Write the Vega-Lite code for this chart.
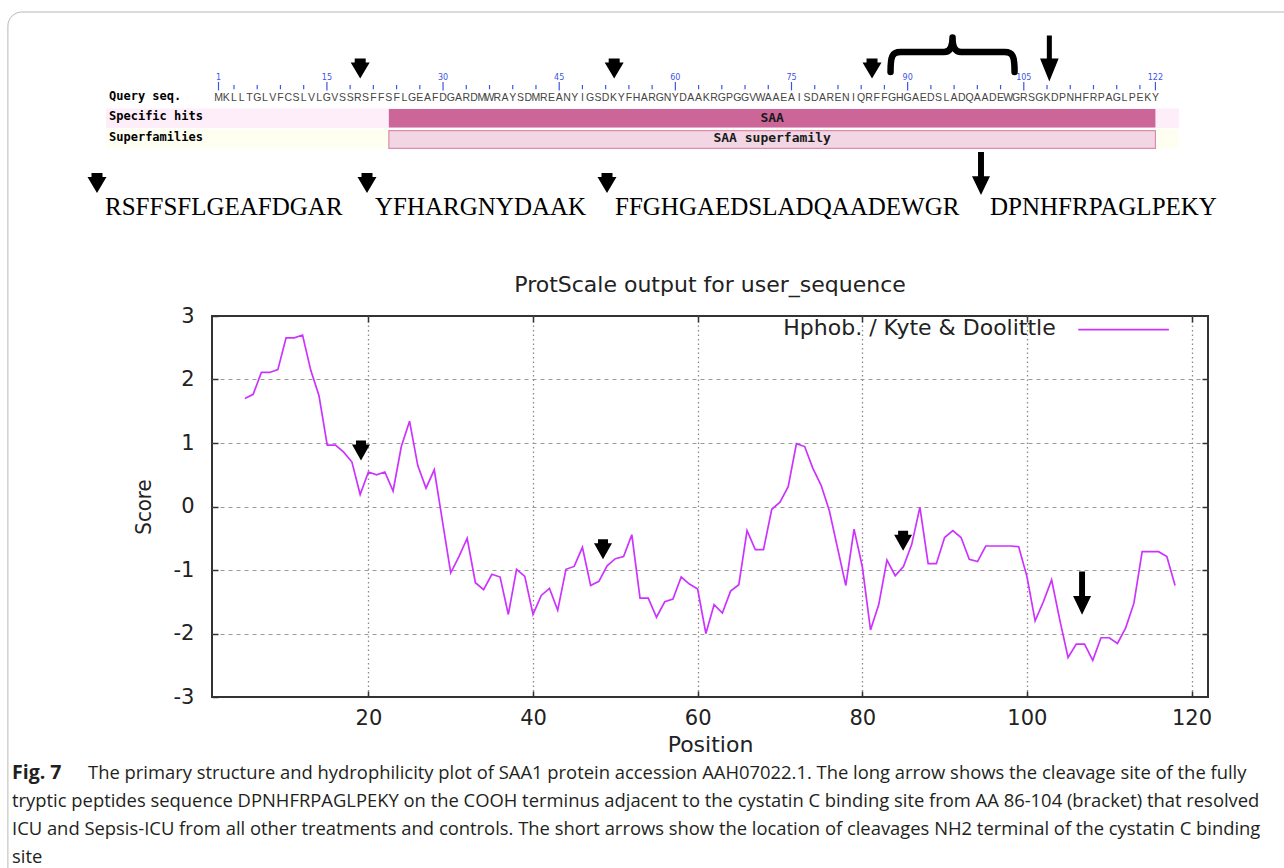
{
  "$schema": "https://vega.github.io/schema/vega-lite/v6.json",
  "autosize": {"type": "none"},
  "padding": {"left": 212, "top": 0, "right": 1072, "bottom": 868},
  "background": "white",
  "config": {"view": {"stroke": null}, "font": "DejaVu Sans"},
  "spacing": 0,
  "bounds": "flush",
  "resolve": {"scale": {"color": "independent"}},
  "vconcat": [
    {
      "width": 996,
      "height": 160,
      "layer": [
        {
          "data": {"values": [{"frame": "figure"}]},
          "mark": {"type": "rect", "fill": "white", "fillOpacity": 0, "stroke": "#b8b8b8", "strokeWidth": 1, "cornerRadius": 14},
          "encoding": {
            "x": {"datum": -26.2, "type": "quantitative", "scale": {"domain": [0.1605, 128.79], "nice": false, "zero": false}, "axis": null},
            "x2": {"datum": 200},
            "y": {"datum": -3.183, "type": "quantitative", "scale": {"domain": [-3.768, 4.037], "nice": false, "zero": false, "reverse": true}, "axis": null},
            "y2": {"datum": 60}
          }
        },
        {
          "data": {"name": "tracks"},
          "transform": [{"filter": "datum.track >= 2"}],
          "mark": {"type": "rule", "strokeWidth": 19.5, "strokeCap": "butt"},
          "encoding": {
            "x": {"datum": -13.53, "type": "quantitative"},
            "x2": {"datum": 125.05},
            "y": {"field": "track", "type": "quantitative"},
            "color": {"field": "label", "type": "nominal", "scale": {"domain": ["Specific hits", "Superfamilies"], "range": ["#fdeefa", "#fefff0"]}, "legend": null}
          }
        },
        {
          "data": {"name": "hits"},
          "transform": [{"filter": "datum.track == 'Specific hits'"}],
          "mark": {"type": "rect", "fill": "#cc6699"},
          "encoding": {
            "x": {"field": "start", "type": "quantitative"},
            "x2": {"field": "end"},
            "y": {"datum": 1.55, "type": "quantitative"},
            "y2": {"datum": 2.45}
          }
        },
        {
          "data": {"name": "hits"},
          "transform": [{"filter": "datum.track == 'Superfamilies'"}],
          "mark": {"type": "rect", "fill": "#f2d6e4", "stroke": "#dc8cb0", "strokeWidth": 1.2},
          "encoding": {
            "x": {"field": "start", "type": "quantitative"},
            "x2": {"field": "end"},
            "y": {"datum": 2.6, "type": "quantitative"},
            "y2": {"datum": 3.47}
          }
        },
        {
          "data": {"name": "hits"},
          "transform": [{"filter": "datum.track == 'Specific hits'"}],
          "mark": {"type": "text", "font": "DejaVu Sans Mono", "fontWeight": "bold", "fontSize": 13, "color": "#1a1a1a", "baseline": "middle"},
          "encoding": {
            "x": {"datum": 72.5, "type": "quantitative"},
            "y": {"datum": 2, "type": "quantitative"},
            "text": {"field": "name"}
          }
        },
        {
          "data": {"name": "hits"},
          "transform": [{"filter": "datum.track == 'Superfamilies'"}],
          "mark": {"type": "text", "font": "DejaVu Sans Mono", "fontWeight": "bold", "fontSize": 13, "color": "#1a1a1a", "baseline": "middle"},
          "encoding": {
            "x": {"datum": 72.5, "type": "quantitative"},
            "y": {"datum": 2.97, "type": "quantitative"},
            "text": {"field": "name"}
          }
        },
        {
          "data": {"name": "tracks"},
          "mark": {"type": "text", "align": "left", "baseline": "middle", "dy": -2, "font": "DejaVu Sans Mono", "fontWeight": "bold", "fontSize": 12, "color": "#000000"},
          "encoding": {
            "x": {"datum": -13.14, "type": "quantitative"},
            "y": {"field": "track", "type": "quantitative"},
            "text": {"field": "label"}
          }
        },
        {
          "data": {"name": "sequence"},
          "mark": {"type": "text", "baseline": "middle", "font": "Liberation Sans", "fontSize": 10.5, "color": "#444444"},
          "encoding": {
            "x": {"field": "position", "type": "quantitative"},
            "y": {"datum": 1, "type": "quantitative"},
            "text": {"field": "residue"}
          }
        },
        {
          "data": {"name": "ruler"},
          "transform": [{"filter": "datum.major"}],
          "mark": {"type": "rule", "color": "#3b55e6", "strokeWidth": 1.2},
          "encoding": {
            "x": {"field": "position", "type": "quantitative"},
            "y": {"datum": 0.232, "type": "quantitative"},
            "y2": {"datum": 0.641}
          }
        },
        {
          "data": {"name": "ruler"},
          "transform": [{"filter": "!datum.major"}],
          "mark": {"type": "rule", "color": "#3b55e6", "strokeWidth": 1.2},
          "encoding": {
            "x": {"field": "position", "type": "quantitative"},
            "y": {"datum": 0.378, "type": "quantitative"},
            "y2": {"datum": 0.588}
          }
        },
        {
          "data": {"name": "ruler"},
          "transform": [{"filter": "datum.major"}],
          "mark": {"type": "text", "baseline": "middle", "font": "DejaVu Sans", "fontSize": 8, "color": "#3b55e6"},
          "encoding": {
            "x": {"field": "position", "type": "quantitative"},
            "y": {"datum": 0.0366, "type": "quantitative"},
            "text": {"field": "position", "type": "quantitative"}
          }
        },
        {
          "data": {"name": "sites"},
          "transform": [{"filter": "datum.arrow == 'short'"}],
          "mark": {"type": "point", "shape": "M-0.55,-1L0.55,-1L0.55,-0.6L0.95,-0.6L0,1L-0.95,-0.6L-0.55,-0.6Z", "size": 400, "filled": true, "opacity": 1, "color": "#000000"},
          "encoding": {
            "x": {"field": "position", "type": "quantitative"},
            "y": {"datum": -0.43, "type": "quantitative"}
          }
        },
        {
          "data": {"name": "sites"},
          "transform": [{"filter": "datum.arrow == 'long'"}],
          "mark": {"type": "point", "shape": "M-0.27,-2.47L0.27,-2.47L0.27,0L1,0L0,2.47L-1,0L-0.27,0Z", "size": 346, "filled": true, "opacity": 1, "color": "#000000"},
          "encoding": {
            "x": {"field": "position", "type": "quantitative"},
            "y": {"datum": -0.91, "type": "quantitative"}
          }
        },
        {
          "data": {"values": [{"region": "cystatin C binding site"}]},
          "mark": {"type": "point", "shape": "M-0.954,0.26C-0.954,0.02 -0.93,-0.046 -0.8,-0.046L-0.13,-0.046C-0.04,-0.046 0,-0.12 0,-0.27C0,-0.12 0.04,-0.046 0.13,-0.046L0.8,-0.046C0.93,-0.046 0.954,0.02 0.954,0.26", "size": 16900, "filled": false, "opacity": 1, "color": "#000000", "strokeWidth": 6.5, "strokeCap": "round", "strokeJoin": "round"},
          "encoding": {
            "x": {"datum": 95.8, "type": "quantitative"},
            "y": {"datum": -1.085, "type": "quantitative"}
          }
        }
      ]
    },
    {
      "width": 996,
      "height": 156,
      "data": {"values": [
        {"peptide": "RSFFSFLGEAFDGAR", "start": 19, "site": "short"},
        {"peptide": "YFHARGNYDAAK", "start": 53, "site": "short"},
        {"peptide": "FFGHGAEDSLADQAADEWGR", "start": 86, "site": "short"},
        {"peptide": "DPNHFRPAGLPEKY", "start": 109, "site": "long"}
      ]},
      "layer": [
        {
          "mark": {"type": "text", "align": "left", "baseline": "alphabetic", "font": "Liberation Serif", "fontSize": 25, "color": "#000000"},
          "encoding": {
            "x": {"field": "start", "type": "quantitative", "scale": {"domain": [19, 53, 86, 109], "range": [-107, 163, 403, 778], "zero": false, "nice": false}, "axis": null},
            "y": {"value": 55},
            "text": {"field": "peptide"}
          }
        },
        {
          "transform": [{"filter": "datum.site == 'short'"}],
          "mark": {"type": "point", "shape": "M-0.55,-1L0.55,-1L0.55,-0.6L0.95,-0.6L0,1L-0.95,-0.6L-0.55,-0.6Z", "size": 400, "filled": true, "opacity": 1, "color": "#000000", "xOffset": -8},
          "encoding": {
            "x": {"field": "start", "type": "quantitative", "axis": null},
            "y": {"value": 23}
          }
        },
        {
          "transform": [{"filter": "datum.site == 'long'"}],
          "mark": {"type": "point", "shape": "M-0.33,-2.4L0.33,-2.4L0.33,0.3L1,0.3L0,2.4L-1,0.3L-0.33,0.3Z", "size": 324, "filled": true, "opacity": 1, "color": "#000000", "xOffset": -9},
          "encoding": {
            "x": {"field": "start", "type": "quantitative", "axis": null},
            "y": {"value": 13.5}
          }
        }
      ]
    },
    {
      "width": 996,
      "height": 381,
      "title": {"text": "ProtScale output for user_sequence", "font": "DejaVu Sans", "fontSize": 22, "fontWeight": "normal", "color": "#222222", "anchor": "middle", "frame": "group", "baseline": "alphabetic", "offset": -9},
      "view": {"stroke": "#333333", "strokeWidth": 2},
      "data": {"values": [
        {"position": 5, "score": 1.700}, {"position": 6, "score": 1.767}, {"position": 7, "score": 2.111}, {"position": 8, "score": 2.111},
        {"position": 9, "score": 2.156}, {"position": 10, "score": 2.656}, {"position": 11, "score": 2.656}, {"position": 12, "score": 2.700},
        {"position": 13, "score": 2.144}, {"position": 14, "score": 1.744}, {"position": 15, "score": 0.967}, {"position": 16, "score": 0.967},
        {"position": 17, "score": 0.856}, {"position": 18, "score": 0.700}, {"position": 19, "score": 0.189}, {"position": 20, "score": 0.544},
        {"position": 21, "score": 0.500}, {"position": 22, "score": 0.544}, {"position": 23, "score": 0.244}, {"position": 24, "score": 0.944},
        {"position": 25, "score": 1.344}, {"position": 26, "score": 0.644}, {"position": 27, "score": 0.289}, {"position": 28, "score": 0.578},
        {"position": 29, "score": -0.233}, {"position": 30, "score": -1.044}, {"position": 31, "score": -0.789}, {"position": 32, "score": -0.500},
        {"position": 33, "score": -1.200}, {"position": 34, "score": -1.311}, {"position": 35, "score": -1.067}, {"position": 36, "score": -1.111},
        {"position": 37, "score": -1.700}, {"position": 38, "score": -0.989}, {"position": 39, "score": -1.100}, {"position": 40, "score": -1.700},
        {"position": 41, "score": -1.400}, {"position": 42, "score": -1.289}, {"position": 43, "score": -1.633}, {"position": 44, "score": -0.989},
        {"position": 45, "score": -0.944}, {"position": 46, "score": -0.644}, {"position": 47, "score": -1.244}, {"position": 48, "score": -1.178},
        {"position": 49, "score": -0.933}, {"position": 50, "score": -0.822}, {"position": 51, "score": -0.789}, {"position": 52, "score": -0.444},
        {"position": 53, "score": -1.444}, {"position": 54, "score": -1.444}, {"position": 55, "score": -1.744}, {"position": 56, "score": -1.500},
        {"position": 57, "score": -1.456}, {"position": 58, "score": -1.111}, {"position": 59, "score": -1.222}, {"position": 60, "score": -1.300},
        {"position": 61, "score": -2.000}, {"position": 62, "score": -1.544}, {"position": 63, "score": -1.678}, {"position": 64, "score": -1.333},
        {"position": 65, "score": -1.233}, {"position": 66, "score": -0.378}, {"position": 67, "score": -0.678}, {"position": 68, "score": -0.678},
        {"position": 69, "score": -0.044}, {"position": 70, "score": 0.067}, {"position": 71, "score": 0.311}, {"position": 72, "score": 0.989},
        {"position": 73, "score": 0.944}, {"position": 74, "score": 0.600}, {"position": 75, "score": 0.333}, {"position": 76, "score": -0.067},
        {"position": 77, "score": -0.656}, {"position": 78, "score": -1.244}, {"position": 79, "score": -0.356}, {"position": 80, "score": -0.944},
        {"position": 81, "score": -1.944}, {"position": 82, "score": -1.544}, {"position": 83, "score": -0.844}, {"position": 84, "score": -1.089},
        {"position": 85, "score": -0.944}, {"position": 86, "score": -0.600}, {"position": 87, "score": -0.011}, {"position": 88, "score": -0.900},
        {"position": 89, "score": -0.900}, {"position": 90, "score": -0.489}, {"position": 91, "score": -0.378}, {"position": 92, "score": -0.489},
        {"position": 93, "score": -0.833}, {"position": 94, "score": -0.867}, {"position": 95, "score": -0.622}, {"position": 96, "score": -0.622},
        {"position": 97, "score": -0.622}, {"position": 98, "score": -0.622}, {"position": 99, "score": -0.633}, {"position": 100, "score": -1.100},
        {"position": 101, "score": -1.800}, {"position": 102, "score": -1.500}, {"position": 103, "score": -1.156}, {"position": 104, "score": -1.789},
        {"position": 105, "score": -2.378}, {"position": 106, "score": -2.167}, {"position": 107, "score": -2.167}, {"position": 108, "score": -2.422},
        {"position": 109, "score": -2.067}, {"position": 110, "score": -2.067}, {"position": 111, "score": -2.156}, {"position": 112, "score": -1.911},
        {"position": 113, "score": -1.522}, {"position": 114, "score": -0.711}, {"position": 115, "score": -0.711}, {"position": 116, "score": -0.711},
        {"position": 117, "score": -0.789}, {"position": 118, "score": -1.244}
      ]},
      "layer": [
        {
          "mark": {"type": "line", "color": "#cc33ff", "strokeWidth": 1.7},
          "encoding": {
            "x": {"field": "position", "type": "quantitative", "scale": {"domain": [1, 122], "nice": false, "zero": false},
              "axis": {"values": [20, 40, 60, 80, 100, 120], "title": "Position", "grid": true, "gridDash": [1.5, 3], "gridColor": "#8a8a8a", "gridWidth": 1.3, "domain": false, "ticks": true, "tickSize": -6, "tickColor": "#333333", "tickWidth": 1.5, "labelPadding": 16, "labelFont": "DejaVu Sans", "labelFontSize": 21, "labelColor": "#222222", "titleFont": "DejaVu Sans", "titleFontSize": 22, "titleFontWeight": "normal", "titleColor": "#222222", "titlePadding": 6}},
            "y": {"field": "score", "type": "quantitative", "scale": {"domain": [-3, 3], "nice": false, "zero": false},
              "axis": {"values": [-3, -2, -1, 0, 1, 2, 3], "labelExpr": "'' + datum.value", "title": "Score", "grid": true, "gridDash": [4, 4], "gridColor": "#9a9a9a", "gridWidth": 1.2, "gridOpacity": {"condition": {"test": "abs(datum.value) == 3", "value": 0}, "value": 1}, "domain": false, "ticks": true, "tickSize": -6, "tickColor": "#333333", "tickWidth": 1.5, "labelPadding": 24, "labelFont": "DejaVu Sans", "labelFontSize": 21, "labelColor": "#222222", "titleFont": "Liberation Sans Narrow, DejaVu Sans Condensed, DejaVu Sans", "titleFontSize": 22, "titleFontWeight": "normal", "titleColor": "#222222", "titlePadding": 18}}
          }
        },
        {
          "mark": {"type": "point", "opacity": 0},
          "encoding": {
            "x": {"field": "position", "type": "quantitative",
              "axis": {"orient": "top", "values": [20, 40, 60, 80, 100, 120], "labels": false, "title": null, "grid": false, "domain": false, "tickSize": -6, "tickColor": "#333333", "tickWidth": 1.5}},
            "y": {"field": "score", "type": "quantitative",
              "axis": {"orient": "right", "values": [-2, -1, 0, 1, 2], "labels": false, "title": null, "grid": false, "domain": false, "tickSize": -6, "tickColor": "#333333", "tickWidth": 1.5}}
          }
        },
        {
          "data": {"values": [{"label": "Hphob. / Kyte & Doolittle"}]},
          "mark": {"type": "text", "align": "right", "baseline": "alphabetic", "font": "DejaVu Sans", "fontSize": 22, "color": "#222222"},
          "encoding": {
            "x": {"datum": 103.5, "type": "quantitative", "axis": null},
            "y": {"datum": 2.693, "type": "quantitative", "axis": null},
            "text": {"field": "label"}
          }
        },
        {
          "data": {"values": [{"label": "Hphob. / Kyte & Doolittle"}]},
          "mark": {"type": "rule", "color": "#cc33ff", "strokeWidth": 1.7},
          "encoding": {
            "x": {"datum": 106.24, "type": "quantitative", "axis": null},
            "x2": {"datum": 117.25},
            "y": {"datum": 2.787, "type": "quantitative", "axis": null}
          }
        },
        {
          "data": {"values": [
            {"position": 19.1, "score": 0.88, "arrow": "short"},
            {"position": 48.5, "score": -0.674, "arrow": "short"},
            {"position": 84.96, "score": -0.54, "arrow": "short"}
          ]},
          "mark": {"type": "point", "shape": "M-0.5,-1L0.5,-1L0.5,-0.6L0.9,-0.6L0,1L-0.9,-0.6L-0.5,-0.6Z", "size": 400, "filled": true, "opacity": 1, "color": "#000000"},
          "encoding": {
            "x": {"field": "position", "type": "quantitative", "axis": null},
            "y": {"field": "score", "type": "quantitative", "axis": null}
          }
        },
        {
          "data": {"values": [
            {"position": 106.7, "score": -1.365, "arrow": "long"}
          ]},
          "mark": {"type": "point", "shape": "M-0.33,-2.4L0.33,-2.4L0.33,0.3L1,0.3L0,2.4L-1,0.3L-0.33,0.3Z", "size": 324, "filled": true, "opacity": 1, "color": "#000000"},
          "encoding": {
            "x": {"field": "position", "type": "quantitative", "axis": null},
            "y": {"field": "score", "type": "quantitative", "axis": null}
          }
        }
      ],
      "resolve": {"axis": {"x": "independent", "y": "independent"}}
    },
    {
      "width": 996,
      "height": 171,
      "data": {"values": [
        {"line": 1, "part": "label", "text": "Fig. 7"},
        {"line": 1, "part": "first", "text": "The primary structure and hydrophilicity plot of SAA1 protein accession AAH07022.1. The long arrow shows the cleavage site of the fully"},
        {"line": 2, "part": "body", "text": "tryptic peptides sequence DPNHFRPAGLPEKY on the COOH terminus adjacent to the cystatin C binding site from AA 86-104 (bracket) that resolved"},
        {"line": 3, "part": "body", "text": "ICU and Sepsis-ICU from all other treatments and controls. The short arrows show the location of cleavages NH2 terminal of the cystatin C binding"},
        {"line": 4, "part": "body", "text": "site"}
      ]},
      "layer": [
        {
          "transform": [{"filter": "datum.part == 'label'"}],
          "mark": {"type": "text", "align": "left", "baseline": "middle", "font": "Open Sans", "fontSize": 19.5, "fontWeight": "bold", "color": "#231f20"},
          "encoding": {
            "x": {"value": -200},
            "y": {"field": "line", "type": "quantitative", "scale": {"domain": [-1.714, 4.393], "nice": false, "zero": false, "reverse": true}, "axis": null},
            "text": {"field": "text"}
          }
        },
        {
          "transform": [{"filter": "datum.part == 'first'"}],
          "mark": {"type": "text", "align": "left", "baseline": "middle", "font": "Open Sans", "fontSize": 18.4, "color": "#231f20"},
          "encoding": {
            "x": {"value": -124},
            "y": {"field": "line", "type": "quantitative", "axis": null},
            "text": {"field": "text"}
          }
        },
        {
          "transform": [{"filter": "datum.part == 'body'"}],
          "mark": {"type": "text", "align": "left", "baseline": "middle", "font": "Open Sans", "fontSize": 18.4, "color": "#231f20"},
          "encoding": {
            "x": {"value": -200},
            "y": {"field": "line", "type": "quantitative", "axis": null},
            "text": {"field": "text"}
          }
        }
      ]
    }
  ],
  "datasets": {
    "tracks": [
      {"label": "Query seq.", "track": 1},
      {"label": "Specific hits", "track": 2},
      {"label": "Superfamilies", "track": 3}
    ],
    "hits": [
      {"track": "Specific hits", "name": "SAA", "start": 23, "end": 122},
      {"track": "Superfamilies", "name": "SAA superfamily", "start": 23, "end": 122}
    ],
    "sites": [
      {"position": 19.3, "arrow": "short"},
      {"position": 52.1, "arrow": "short"},
      {"position": 85.4, "arrow": "short"},
      {"position": 108.3, "arrow": "long"}
    ],
    "ruler": [
      {"position": 1, "major": true}, {"position": 15, "major": true}, {"position": 30, "major": true}, {"position": 45, "major": true},
      {"position": 60, "major": true}, {"position": 75, "major": true}, {"position": 90, "major": true}, {"position": 105, "major": true},
      {"position": 122, "major": true},
      {"position": 3, "major": false}, {"position": 6, "major": false}, {"position": 9, "major": false}, {"position": 12, "major": false},
      {"position": 18, "major": false}, {"position": 21, "major": false}, {"position": 24, "major": false}, {"position": 27, "major": false},
      {"position": 33, "major": false}, {"position": 36, "major": false}, {"position": 39, "major": false}, {"position": 42, "major": false},
      {"position": 48, "major": false}, {"position": 51, "major": false}, {"position": 54, "major": false}, {"position": 57, "major": false},
      {"position": 63, "major": false}, {"position": 66, "major": false}, {"position": 69, "major": false}, {"position": 72, "major": false},
      {"position": 78, "major": false}, {"position": 81, "major": false}, {"position": 84, "major": false}, {"position": 87, "major": false},
      {"position": 93, "major": false}, {"position": 96, "major": false}, {"position": 99, "major": false}, {"position": 102, "major": false},
      {"position": 108, "major": false}, {"position": 111, "major": false}, {"position": 114, "major": false}, {"position": 117, "major": false},
      {"position": 120, "major": false}
    ],
    "sequence": [
      {"position": 1, "residue": "M"}, {"position": 2, "residue": "K"}, {"position": 3, "residue": "L"}, {"position": 4, "residue": "L"},
      {"position": 5, "residue": "T"}, {"position": 6, "residue": "G"}, {"position": 7, "residue": "L"}, {"position": 8, "residue": "V"},
      {"position": 9, "residue": "F"}, {"position": 10, "residue": "C"}, {"position": 11, "residue": "S"}, {"position": 12, "residue": "L"},
      {"position": 13, "residue": "V"}, {"position": 14, "residue": "L"}, {"position": 15, "residue": "G"}, {"position": 16, "residue": "V"},
      {"position": 17, "residue": "S"}, {"position": 18, "residue": "S"}, {"position": 19, "residue": "R"}, {"position": 20, "residue": "S"},
      {"position": 21, "residue": "F"}, {"position": 22, "residue": "F"}, {"position": 23, "residue": "S"}, {"position": 24, "residue": "F"},
      {"position": 25, "residue": "L"}, {"position": 26, "residue": "G"}, {"position": 27, "residue": "E"}, {"position": 28, "residue": "A"},
      {"position": 29, "residue": "F"}, {"position": 30, "residue": "D"}, {"position": 31, "residue": "G"}, {"position": 32, "residue": "A"},
      {"position": 33, "residue": "R"}, {"position": 34, "residue": "D"}, {"position": 35, "residue": "M"}, {"position": 36, "residue": "W"},
      {"position": 37, "residue": "R"}, {"position": 38, "residue": "A"}, {"position": 39, "residue": "Y"}, {"position": 40, "residue": "S"},
      {"position": 41, "residue": "D"}, {"position": 42, "residue": "M"}, {"position": 43, "residue": "R"}, {"position": 44, "residue": "E"},
      {"position": 45, "residue": "A"}, {"position": 46, "residue": "N"}, {"position": 47, "residue": "Y"}, {"position": 48, "residue": "I"},
      {"position": 49, "residue": "G"}, {"position": 50, "residue": "S"}, {"position": 51, "residue": "D"}, {"position": 52, "residue": "K"},
      {"position": 53, "residue": "Y"}, {"position": 54, "residue": "F"}, {"position": 55, "residue": "H"}, {"position": 56, "residue": "A"},
      {"position": 57, "residue": "R"}, {"position": 58, "residue": "G"}, {"position": 59, "residue": "N"}, {"position": 60, "residue": "Y"},
      {"position": 61, "residue": "D"}, {"position": 62, "residue": "A"}, {"position": 63, "residue": "A"}, {"position": 64, "residue": "K"},
      {"position": 65, "residue": "R"}, {"position": 66, "residue": "G"}, {"position": 67, "residue": "P"}, {"position": 68, "residue": "G"},
      {"position": 69, "residue": "G"}, {"position": 70, "residue": "V"}, {"position": 71, "residue": "W"}, {"position": 72, "residue": "A"},
      {"position": 73, "residue": "A"}, {"position": 74, "residue": "E"}, {"position": 75, "residue": "A"}, {"position": 76, "residue": "I"},
      {"position": 77, "residue": "S"}, {"position": 78, "residue": "D"}, {"position": 79, "residue": "A"}, {"position": 80, "residue": "R"},
      {"position": 81, "residue": "E"}, {"position": 82, "residue": "N"}, {"position": 83, "residue": "I"}, {"position": 84, "residue": "Q"},
      {"position": 85, "residue": "R"}, {"position": 86, "residue": "F"}, {"position": 87, "residue": "F"}, {"position": 88, "residue": "G"},
      {"position": 89, "residue": "H"}, {"position": 90, "residue": "G"}, {"position": 91, "residue": "A"}, {"position": 92, "residue": "E"},
      {"position": 93, "residue": "D"}, {"position": 94, "residue": "S"}, {"position": 95, "residue": "L"}, {"position": 96, "residue": "A"},
      {"position": 97, "residue": "D"}, {"position": 98, "residue": "Q"}, {"position": 99, "residue": "A"}, {"position": 100, "residue": "A"},
      {"position": 101, "residue": "D"}, {"position": 102, "residue": "E"}, {"position": 103, "residue": "W"}, {"position": 104, "residue": "G"},
      {"position": 105, "residue": "R"}, {"position": 106, "residue": "S"}, {"position": 107, "residue": "G"}, {"position": 108, "residue": "K"},
      {"position": 109, "residue": "D"}, {"position": 110, "residue": "P"}, {"position": 111, "residue": "N"}, {"position": 112, "residue": "H"},
      {"position": 113, "residue": "F"}, {"position": 114, "residue": "R"}, {"position": 115, "residue": "P"}, {"position": 116, "residue": "A"},
      {"position": 117, "residue": "G"}, {"position": 118, "residue": "L"}, {"position": 119, "residue": "P"}, {"position": 120, "residue": "E"},
      {"position": 121, "residue": "K"}, {"position": 122, "residue": "Y"}
    ]
  }
}
